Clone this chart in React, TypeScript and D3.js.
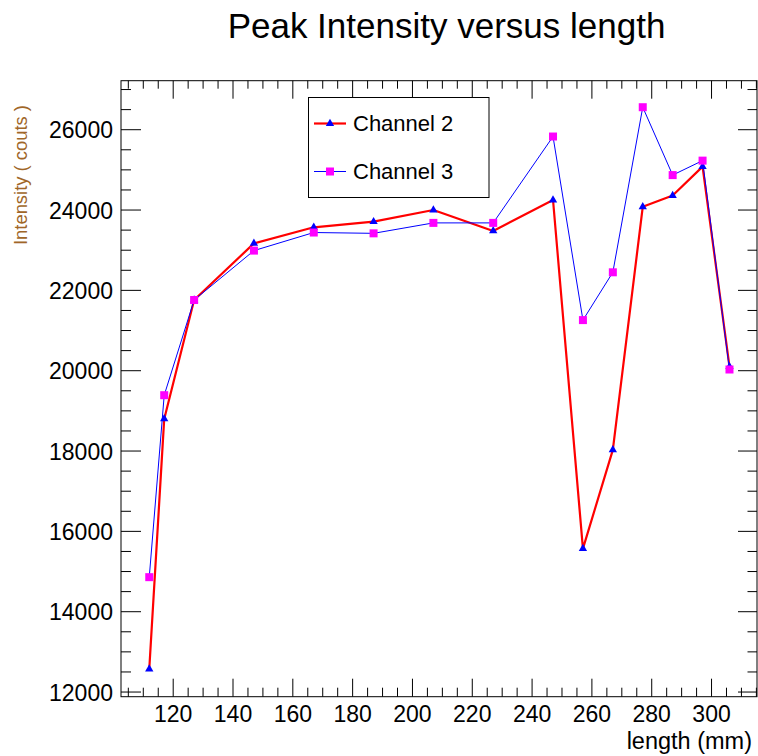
import React from "react";
import * as d3 from "d3";

const lengths = [112, 117, 127, 147, 167, 187, 207, 227, 247, 257, 267, 277, 287, 297, 306];
const channel2 = [12570, 18800, 21760, 23170, 23570, 23710, 24000, 23480, 24250, 15570, 18030, 24080, 24360, 25080, 20100];
const channel3 = [14860, 19390, 21760, 22990, 23440, 23420, 23680, 23680, 25830, 21260, 22450, 26560, 24870, 25230, 20030];
const xMajorTicks = [120, 140, 160, 180, 200, 220, 240, 260, 280, 300];
const yMajorTicks = [12000, 14000, 16000, 18000, 20000, 22000, 24000, 26000];
const legendLabels = ["Channel 2", "Channel 3"];

const W = 758;
const H = 756;
const L = 121, R = 757, T = 80.7, B = 696.7;
const FONT = "'Liberation Sans', Arial, Helvetica, sans-serif";

export default function App() {
  const x = d3.scaleLinear().domain([102.55, 315.2]).range([L, R]);
  const y = d3.scaleLinear().domain([11884, 27220]).range([B, T]);

  const xMinor = d3.range(105, 316, 5).filter((v) => !xMajorTicks.includes(v) && x(v) > L && x(v) < R);
  const yMinor = d3.range(12000, 27500, 500).filter((v) => !yMajorTicks.includes(v) && y(v) > T && y(v) < B);

  const line = d3
    .line<number>()
    .x((_, i) => x(lengths[i]))
    .y((d) => y(d));

  const tri = d3.symbol().type(d3.symbolTriangle).size(30)();

  return (
    <svg width={W} height={H} style={{ position: "absolute", left: 0, top: 0, background: "#fff" }} fontFamily={FONT}>
      <rect x={0} y={0} width={W} height={H} fill="#fff" />
      {/* Title */}
      <text x={446.5} y={38} fontSize={35} textAnchor="middle" fill="#000">
        Peak Intensity versus length
      </text>

      {/* Frame */}
      <rect x={L} y={T} width={R - L} height={B - T} fill="none" stroke="#000" strokeWidth={1} />

      {/* X ticks bottom & top */}
      {xMajorTicks.map((v) => (
        <g key={"xM" + v}>
          <line x1={x(v)} x2={x(v)} y1={B} y2={B - 18} stroke="#000" />
          <line x1={x(v)} x2={x(v)} y1={T} y2={T + 18} stroke="#000" />
          <text x={x(v)} y={722} fontSize={23} textAnchor="middle" fill="#000">
            {v}
          </text>
        </g>
      ))}
      {xMinor.map((v) => (
        <g key={"xm" + v}>
          <line x1={x(v)} x2={x(v)} y1={B} y2={B - 9} stroke="#000" />
          <line x1={x(v)} x2={x(v)} y1={T} y2={T + 8} stroke="#000" />
        </g>
      ))}

      {/* Y ticks left & right */}
      {yMajorTicks.map((v) => (
        <g key={"yM" + v}>
          <line x1={L} x2={L + 20} y1={y(v)} y2={y(v)} stroke="#000" />
          <line x1={R} x2={R - 19} y1={y(v)} y2={y(v)} stroke="#000" />
          <text x={113} y={y(v) + 8.5} fontSize={23} textAnchor="end" fill="#000">
            {v}
          </text>
        </g>
      ))}
      {yMinor.map((v) => (
        <g key={"ym" + v}>
          <line x1={L} x2={L + 10} y1={y(v)} y2={y(v)} stroke="#000" />
          <line x1={R} x2={R - 9.5} y1={y(v)} y2={y(v)} stroke="#000" />
        </g>
      ))}

      {/* Axis titles */}
      <text x={752} y={749} fontSize={23.5} textAnchor="end" fill="#000">
        length (mm)
      </text>
      <text
        transform="translate(26.5,105) rotate(-90)"
        fontSize={18.4}
        textAnchor="end"
        fill="#a06628"
      >
        Intensity ( couts )
      </text>

      {/* Channel 2 */}
      <path d={line(channel2) || ""} fill="none" stroke="#ff0000" strokeWidth={2.2} strokeLinejoin="round" />
      {channel2.map((v, i) => (
        <path key={"t" + i} d={tri || ""} transform={`translate(${x(lengths[i])},${y(v)})`} fill="#0000ff" />
      ))}

      {/* Channel 3 */}
      <path d={line(channel3) || ""} fill="none" stroke="#0000ff" strokeWidth={1} strokeLinejoin="round" />
      {channel3.map((v, i) => (
        <rect key={"s" + i} x={x(lengths[i]) - 4} y={y(v) - 4} width={8} height={8} fill="#ff00ff" />
      ))}

      {/* Legend */}
      <rect x={308.5} y={97.5} width={180.5} height={100} fill="#fff" stroke="#000" strokeWidth={1} />
      <line x1={314} x2={346} y1={123.5} y2={123.5} stroke="#ff0000" strokeWidth={2.2} />
      <path d={tri || ""} transform="translate(330,123.5)" fill="#0000ff" />
      <text x={353} y={130.5} fontSize={22} fill="#000">
        {legendLabels[0]}
      </text>
      <line x1={314} x2={346} y1={171.5} y2={171.5} stroke="#0000ff" strokeWidth={1} />
      <rect x={326} y={167.5} width={8} height={8} fill="#ff00ff" />
      <text x={353} y={179} fontSize={22} fill="#000">
        {legendLabels[1]}
      </text>
    </svg>
  );
}
